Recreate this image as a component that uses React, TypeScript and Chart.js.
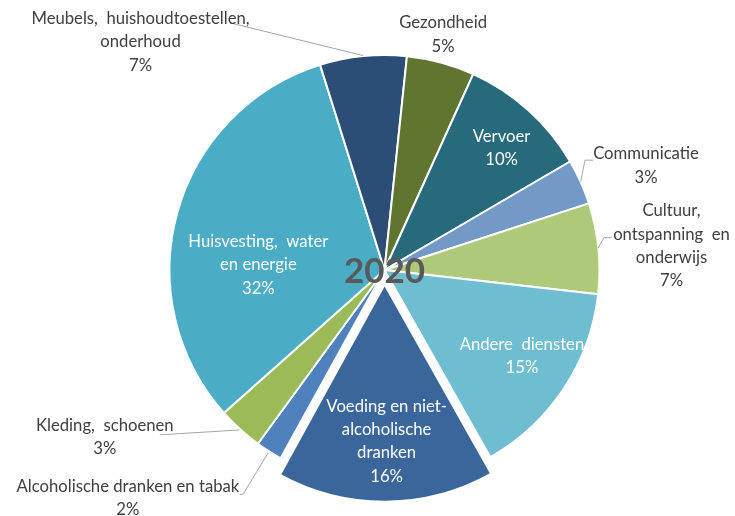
import React, { useEffect, useRef } from 'react';
import { Chart, registerables } from 'chart.js';

Chart.register(...registerables);

// ---------- DATA ----------
const categories: string[] = [
  'Voeding en niet-alcoholische dranken',
  'Alcoholische dranken en tabak',
  'Kleding, schoenen',
  'Huisvesting, water en energie',
  'Meubels, huishoudtoestellen, onderhoud',
  'Gezondheid',
  'Vervoer',
  'Communicatie',
  'Cultuur, ontspanning en onderwijs',
  'Andere diensten',
];

// share of total spending (%)
const shares: number[] = [16.2, 2.0, 3.4, 31.7, 6.5, 5.1, 9.8, 3.4, 6.8, 15.0];

// label text split into lines as shown
const labelLines: string[][] = [
  ['Voeding en niet-', 'alcoholische', 'dranken'],
  ['Alcoholische dranken en tabak'],
  ['Kleding,  schoenen'],
  ['Huisvesting,  water', 'en energie'],
  ['Meubels,  huishoudtoestellen,', 'onderhoud'],
  ['Gezondheid'],
  ['Vervoer'],
  ['Communicatie'],
  ['Cultuur,', 'ontspanning  en', 'onderwijs'],
  ['Andere  diensten'],
];

const yearLabel = '2020';

// ---------- STYLE / LAYOUT ----------
const sliceColors = [
  '#3A669B',
  '#4F81BD',
  '#9BBB59',
  '#4BACC6',
  '#2C4D75',
  '#5F7530',
  '#276A7C',
  '#7399C6',
  '#AFC97A',
  '#6FBDD1',
];

const sliceOffsets = [58, 0, 0, 0, 0, 0, 0, 0, 0, 0];

type Leader = { dx: number; dy: number; elbow?: number; gap: number };
type LabelLayout = { r: number; da: number; inside: boolean; leader?: Leader };

const labelLayout: LabelLayout[] = [
  { r: 0.8, da: -0.4, inside: true },
  { r: 1.604, da: 15.9, inside: false, leader: { dx: 112, dy: -3.7, elbow: 3.3, gap: 3 } },
  { r: 1.523, da: 16.9, inside: false, leader: { dx: 55, dy: -2.5, gap: 2 } },
  { r: 0.59, da: -13.2, inside: true },
  { r: 1.561, da: -41.2, inside: false, leader: { dx: 89.5, dy: -19, gap: 1.5 } },
  { r: 1.133, da: -1.2, inside: false },
  { r: 0.79, da: 1.8, inside: true },
  { r: 1.316, da: 2.4, inside: false, leader: { dx: -53, dy: -5.3, elbow: -8, gap: 1 } },
  { r: 1.346, da: 1.0, inside: false, leader: { dx: -59.8, dy: -8.3, elbow: -7.7, gap: 0.5 } },
  { r: 0.757, da: -1.5, inside: true },
];

const FONT = '16.7px Lato, "Open Sans", sans-serif';
const LINE_H = 23.3;

const labelPlugin = {
  id: 'sliceLabels',
  afterDatasetsDraw(chart: any) {
    const ctx: CanvasRenderingContext2D = chart.ctx;
    const meta = chart.getDatasetMeta(0);
    const total = shares.reduce((a, b) => a + b, 0);
    let cx = 0;
    let cy = 0;
    meta.data.forEach((arc: any, i: number) => {
      const { x, y, startAngle, endAngle, outerRadius } = arc.getProps(
        ['x', 'y', 'startAngle', 'endAngle', 'outerRadius'],
        true
      );
      cx = x;
      cy = y;
      const L = labelLayout[i];
      const mid = (startAngle + endAngle) / 2;
      const a = mid + (L.da * Math.PI) / 180;
      const R = outerRadius - 1;
      const lx = x + Math.cos(a) * L.r * R;
      const ly = y + Math.sin(a) * L.r * R;

      ctx.save();
      if (L.leader) {
        const ax = lx + L.leader.dx;
        const ay = ly + L.leader.dy;
        const ex = x + Math.cos(mid) * (R + L.leader.gap);
        const ey = y + Math.sin(mid) * (R + L.leader.gap);
        ctx.strokeStyle = '#A6A6A6';
        ctx.lineWidth = 1;
        ctx.beginPath();
        ctx.moveTo(ax, ay);
        if (L.leader.elbow) ctx.lineTo(ax + L.leader.elbow, ay);
        ctx.lineTo(ex, ey);
        ctx.stroke();
      }
      const pct = Math.round((shares[i] / total) * 100) + '%';
      const lines = [...labelLines[i], pct];
      ctx.font = FONT;
      ctx.fillStyle = L.inside ? '#FFFFFF' : '#404040';
      ctx.textAlign = 'center';
      ctx.textBaseline = 'middle';
      const y0 = ly - ((lines.length - 1) / 2) * LINE_H;
      lines.forEach((t, k) => ctx.fillText(t, lx, y0 + k * LINE_H));
      ctx.restore();
    });

    ctx.save();
    ctx.font = 'bold 35px Lato, "Open Sans", sans-serif';
    ctx.fillStyle = '#595959';
    ctx.textAlign = 'center';
    ctx.textBaseline = 'middle';
    ctx.fillText(yearLabel, cx, cy + 2);
    ctx.restore();
  },
};

export default function App() {
  const ref = useRef<HTMLCanvasElement | null>(null);

  useEffect(() => {
    if (!ref.current) return;
    const chart = new Chart(ref.current, {
      type: 'pie',
      data: {
        labels: categories,
        datasets: [
          {
            data: shares,
            backgroundColor: sliceColors,
            borderColor: '#FFFFFF',
            borderWidth: 2,
            offset: sliceOffsets,
          } as any,
        ],
      },
      options: {
        responsive: false,
        animation: false,
        devicePixelRatio: 1,
        rotation: 150.5,
        radius: 215,
        layout: { padding: { left: 34, right: 0, top: 24, bottom: 0 } },
        plugins: {
          legend: { display: false },
          tooltip: { enabled: false },
        },
      } as any,
      plugins: [labelPlugin],
    });
    return () => chart.destroy();
  }, []);

  return (
    <div style={{ position: 'absolute', left: 0, top: 0, width: 735, height: 516, background: '#FFFFFF' }}>
      <canvas ref={ref} width={735} height={516} />
    </div>
  );
}
